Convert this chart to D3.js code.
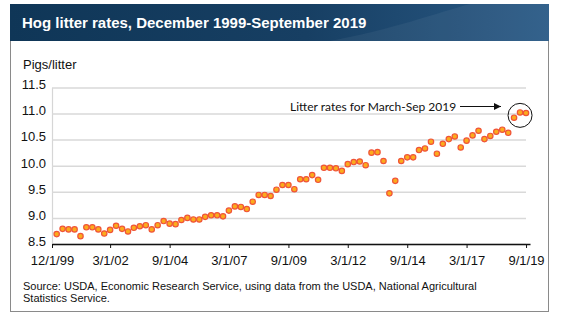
<!DOCTYPE html>
<html>
<head>
<meta charset="utf-8">
<script src="https://cdn.jsdelivr.net/npm/d3@7"></script>
<style>
  body { margin: 0; background: #fff; }
  svg text { font-family: "Liberation Sans", Arial, sans-serif; }
</style>
</head>
<body>
<div class="chart"></div>
<script>
// quarterly hog litter rates (pigs per litter), Dec 1999 through Sep 2019
const firstQuarter = new Date(1999, 11, 1);
const litterRates = [
  8.69, 8.79, 8.78, 8.78, 8.65, 8.82, 8.82, 8.78, 8.70, 8.77,
  8.85, 8.79, 8.74, 8.81, 8.84, 8.86, 8.78, 8.86, 8.94, 8.89,
  8.88, 8.96, 9.00, 8.97, 8.97, 9.02, 9.05, 9.05, 9.03, 9.14,
  9.22, 9.21, 9.17, 9.31, 9.44, 9.44, 9.42, 9.54, 9.63, 9.63,
  9.55, 9.74, 9.74, 9.82, 9.73, 9.96, 9.96, 9.95, 9.90, 10.03,
  10.07, 10.08, 10.01, 10.25, 10.26, 10.09, 9.47, 9.71, 10.09, 10.16,
  10.16, 10.30, 10.33, 10.46, 10.23, 10.42, 10.51, 10.56, 10.35, 10.48,
  10.58, 10.67, 10.51, 10.57, 10.65, 10.69, 10.63, 10.92, 11.02, 11.01
];
const yTicks = [8.5, 9.0, 9.5, 10.0, 10.5, 11.0, 11.5];
const xTickLabels = ['12/1/99', '3/1/02', '9/1/04', '3/1/07', '9/1/09', '3/1/12', '9/1/14', '3/1/17', '9/1/19'];
const titleText = 'Hog litter rates, December 1999-September 2019';
const unitLabel = 'Pigs/litter';
const noteText = 'Litter rates for March-Sep 2019';
const sourceLines = [
  'Source: USDA, Economic Research Service, using data from the USDA, National Agricultural',
  'Statistics Service.'
];

const w = 561;
const h = 325;
const plot = {left: 52, right: 530, top: 87.4, bottom: 244};

const data = litterRates.map(function(v, i) {
  return {date: d3.timeMonth.offset(firstQuarter, 3 * i), value: v};
});
const lastDate = data[data.length - 1].date;

var svg = d3.select('.chart')
            .append('svg')
            .attr('width', w)
            .attr('height', h);

// title banner
var defs = svg.append('defs');
var grad = defs.append('linearGradient')
               .attr('id', 'banner')
               .attr('x1', 0).attr('x2', 1).attr('y1', 0).attr('y2', 0);
grad.append('stop').attr('offset', '0%').attr('stop-color', '#0f3657');
grad.append('stop').attr('offset', '55%').attr('stop-color', '#173f63');
grad.append('stop').attr('offset', '100%').attr('stop-color', '#2a5a86');

// outer frame
svg.append('rect')
   .attr('x', 10.5)
   .attr('y', 4.5)
   .attr('width', 538)
   .attr('height', 307)
   .attr('fill', '#fff')
   .attr('stroke', '#8a8a8a')
   .attr('stroke-width', 1);

svg.append('rect')
   .attr('x', 10)
   .attr('y', 4)
   .attr('width', 539)
   .attr('height', 37)
   .attr('fill', 'url(#banner)');

// soft sheen across the banner
svg.append('path')
   .attr('d', 'M330,41 C390,30 440,12 470,4 L549,4 L549,41 Z')
   .attr('fill', '#ffffff')
   .attr('opacity', 0.05);

svg.append('text')
   .attr('x', 22)
   .attr('y', 28)
   .attr('fill', '#fff')
   .attr('font-size', 15)
   .attr('font-weight', 'bold')
   .text(titleText);

// scales
var x = d3.scaleTime()
          .domain([d3.timeDay.offset(firstQuarter, -72), d3.timeDay.offset(lastDate, 61)])
          .range([plot.left, plot.right]);

var y = d3.scaleLinear()
          .domain([8.5, 11.5])
          .range([plot.bottom, plot.top]);

// y axis with gridlines
var yAxis = svg.append('g')
               .attr('transform', 'translate(' + plot.left + ',0)')
               .call(d3.axisLeft(y)
                       .tickValues(yTicks)
                       .tickFormat(d3.format('.1f'))
                       .tickSize(-(526 - plot.left))
                       .tickSizeOuter(0)
                       .tickPadding(6));
yAxis.select('.domain').attr('stroke', '#d6d6d6').attr('stroke-width', 1.2);
yAxis.selectAll('.tick line').attr('stroke', '#d9d9d9').attr('stroke-width', 1.5);
yAxis.selectAll('.tick text')
     .attr('font-size', 13)
     .attr('fill', '#111')
     .attr('dy', '0.1em');

svg.append('text')
   .attr('x', 23)
   .attr('y', 68.5)
   .attr('font-size', 13)
   .attr('fill', '#111')
   .text(unitLabel);

// x axis: first label sits at the axis origin
var tickDates = xTickLabels.map(function(l, i) {
  return i === 0 ? x.domain()[0] : d3.timeParse('%m/%d/%y')(l);
});
var xAxis = svg.append('g')
               .attr('transform', 'translate(0,' + plot.bottom + ')')
               .call(d3.axisBottom(x)
                       .tickValues(tickDates)
                       .tickFormat(function(d, i) { return xTickLabels[i]; })
                       .tickSize(4)
                       .tickSizeOuter(0)
                       .tickPadding(8));
xAxis.select('.domain').attr('stroke', '#111').attr('stroke-width', 1.5);
xAxis.selectAll('.tick line').attr('stroke', '#111').attr('stroke-width', 1);
xAxis.selectAll('.tick text').attr('font-size', 13).attr('fill', '#111');

// points
svg.append('g')
   .selectAll('circle')
   .data(data)
   .enter()
   .append('circle')
   .attr('cx', function(d) { return x(d.date); })
   .attr('cy', function(d) { return y(d.value); })
   .attr('r', 2.7)
   .attr('fill', '#fbab1c')
   .attr('stroke', '#f05438')
   .attr('stroke-width', 1.2);

// callout for the 2019 quarters
var recent = data.slice(-3);
var cx = d3.mean(recent, function(d) { return x(d.date); });
var cy = d3.mean(recent, function(d) { return y(d.value); }) + 1;

svg.append('circle')
   .attr('cx', cx)
   .attr('cy', cy)
   .attr('r', 12)
   .attr('fill', 'none')
   .attr('stroke', '#111')
   .attr('stroke-width', 1);

defs.append('marker')
    .attr('id', 'head')
    .attr('viewBox', '0 0 10 10')
    .attr('refX', 10).attr('refY', 5)
    .attr('markerWidth', 9).attr('markerHeight', 7)
    .attr('markerUnits', 'userSpaceOnUse')
    .attr('orient', 'auto')
    .append('path')
    .attr('d', 'M0,0 L10,5 L0,10 Z')
    .attr('fill', '#111');

svg.append('line')
   .attr('x1', 460)
   .attr('x2', 501)
   .attr('y1', 106.5)
   .attr('y2', 106.5)
   .attr('stroke', '#111')
   .attr('stroke-width', 1)
   .attr('marker-end', 'url(#head)');

svg.append('text')
   .attr('x', 290)
   .attr('y', 111)
   .attr('font-size', 12)
   .style('font-family', 'Lato, sans-serif')
   .attr('fill', '#111')
   .text(noteText);

// source note
svg.selectAll('.source')
   .data(sourceLines)
   .enter()
   .append('text')
   .attr('class', 'source')
   .attr('x', 23)
   .attr('y', function(d, i) { return 289.5 + i * 12; })
   .attr('font-size', 11)
   .attr('fill', '#111')
   .text(function(d) { return d; });
</script>
</body>
</html>
